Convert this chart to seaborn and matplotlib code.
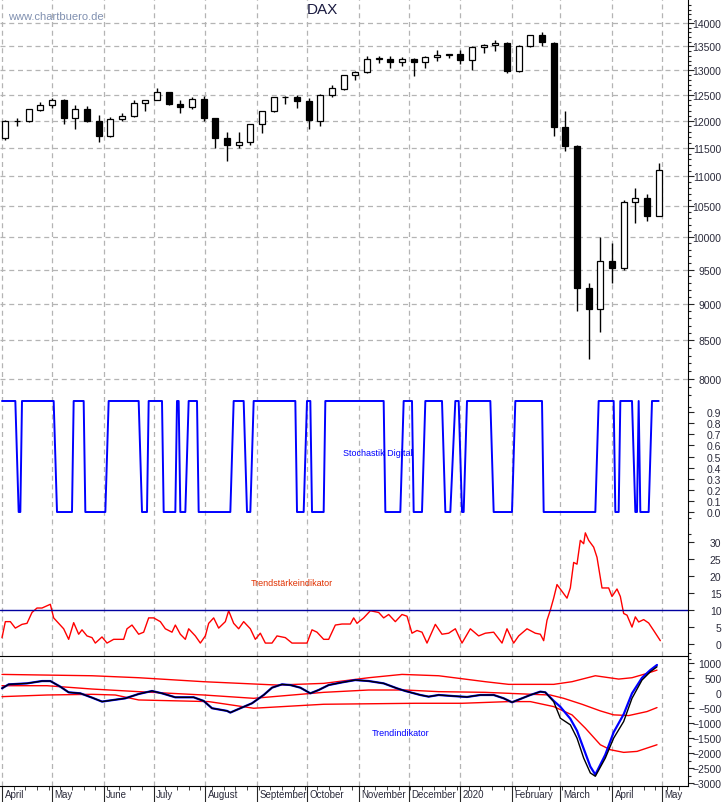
import matplotlib
matplotlib.use('Agg')
import matplotlib.pyplot as plt
import matplotlib.dates as mdates
import matplotlib.ticker as mticker
import numpy as np
import pandas as pd
import seaborn as sns

"""
DAX Wochenkerzen mit Stochastik Digital, Trendstaerke- und Trendindikator
"""

# DAX Wochenkerzen (Montag, Open, High, Low, Close)
week_start = ['2019-04-01', '2019-04-08', '2019-04-15', '2019-04-22', '2019-04-29', '2019-05-06',
              '2019-05-13', '2019-05-20', '2019-05-27', '2019-06-03', '2019-06-10', '2019-06-17',
              '2019-06-24', '2019-07-01', '2019-07-08', '2019-07-15', '2019-07-22', '2019-07-29',
              '2019-08-05', '2019-08-12', '2019-08-19', '2019-08-26', '2019-09-02', '2019-09-09',
              '2019-09-16', '2019-09-23', '2019-09-30', '2019-10-07', '2019-10-14', '2019-10-21',
              '2019-10-28', '2019-11-04', '2019-11-11', '2019-11-18', '2019-11-25', '2019-12-02',
              '2019-12-09', '2019-12-16', '2019-12-23', '2019-12-30', '2020-01-06', '2020-01-13',
              '2020-01-20', '2020-01-27', '2020-02-03', '2020-02-10', '2020-02-17', '2020-02-24',
              '2020-03-02', '2020-03-09', '2020-03-16', '2020-03-23', '2020-03-30', '2020-04-06',
              '2020-04-13', '2020-04-20', '2020-04-27']
dax_open = [11680, 12010, 12000, 12220, 12315, 12410, 12060, 12240, 12010, 11720, 12045, 12090,
            12340, 12400, 12560, 12320, 12260, 12420, 12050, 11690, 11560, 11610, 11940, 12190,
            12470, 12460, 12380, 12010, 12510, 12630, 12900, 12960, 13230, 13240, 13160, 13240,
            13170, 13280, 13320, 13340, 13220, 13480, 13520, 13570, 12980, 13510, 13740, 13570,
            11890, 11540, 9230, 8930, 9630, 9530, 10560, 10630, 10340]
dax_high = [12020, 12050, 12230, 12370, 12440, 12420, 12300, 12280, 12110, 12070, 12150, 12400,
            12400, 12650, 12570, 12400, 12470, 12480, 12050, 11800, 11800, 11950, 12200, 12470,
            12480, 12500, 12440, 12530, 12700, 12900, 12990, 13290, 13300, 13300, 13280, 13260,
            13300, 13430, 13340, 13420, 13500, 13550, 13640, 13590, 13520, 13750, 13800, 13580,
            12200, 11550, 9300, 10000, 9900, 10600, 10800, 10700, 11230]
dax_low = [11650, 11900, 11990, 12200, 12250, 11950, 11860, 11980, 11620, 11710, 12000, 12070,
           12200, 12400, 12300, 12150, 12230, 12000, 11500, 11270, 11500, 11550, 11780, 12180,
           12330, 12250, 11850, 11900, 12460, 12600, 12800, 12950, 13150, 13050, 13090, 12890,
           13050, 13200, 13250, 13130, 13000, 13360, 13400, 12950, 12970, 13490, 13500, 11720,
           11450, 8900, 8250, 8620, 9300, 9500, 10230, 10250, 10330]
dax_close = [12010, 11999, 12222, 12315, 12412, 12060, 12239, 12011, 11727, 12045, 12096, 12340,
             12399, 12568, 12323, 12260, 12419, 12059, 11694, 11562, 11612, 11939, 12192, 12469,
             12468, 12381, 12013, 12512, 12634, 12895, 12961, 13229, 13242, 13164, 13236, 13166,
             13283, 13319, 13337, 13219, 13483, 13526, 13577, 12982, 13513, 13745, 13579, 11890,
             11542, 9232, 8929, 9633, 9526, 10565, 10626, 10336, 11107]

# Stochastik Digital (Tage seit 01.04.2019, Wert)
stoch_day = [0, 8, 10, 11,
             12, 31, 33, 42,
             43, 49, 50, 62,
             64, 82, 84, 87,
             88, 96, 97, 104,
             105, 106, 107, 110,
             112, 117, 118, 137,
             139, 145, 147, 149,
             151, 176, 177, 181,
             183, 185, 186, 193,
             194, 229, 230, 239,
             241, 246, 247, 252,
             254, 264, 266, 269,
             272, 274, 276, 277,
             279, 293, 295, 306,
             308, 324, 325, 356,
             358, 367, 368, 370,
             371, 378, 380, 381,
             382, 383, 388, 390,
             394]
stoch_val = [1, 1, 0, 0,
             1, 1, 0, 0,
             1, 1, 0, 0,
             1, 1, 0, 0,
             1, 1, 0, 0,
             1, 1, 0, 0,
             1, 1, 0, 0,
             1, 1, 0, 0,
             1, 1, 0, 0,
             1, 1, 0, 0,
             1, 1, 0, 0,
             1, 1, 0, 0,
             1, 1, 0, 0,
             1, 1, 0, 0,
             1, 1, 0, 0,
             1, 1, 0, 0,
             1, 1, 0, 0,
             1, 1, 0, 0,
             1, 0, 0, 1,
             1]

# Trendstaerkeindikator
ts_day = [0, 2, 5, 8, 12, 15, 18, 21, 24, 29, 31, 34, 37, 40, 43, 46, 48, 51, 54, 56, 60, 63, 67, 73,
          75, 78, 82, 85, 88, 91, 95, 98, 102, 104, 107, 110, 112, 116, 119, 122, 124, 127, 130, 134,
          136, 139, 142, 145, 149, 152, 155, 158, 162, 165, 170, 174, 179, 183, 186, 189, 193, 196,
          200, 204, 209, 211, 213, 217, 221, 226, 229, 232, 236, 240, 243, 246, 249, 252, 255, 260,
          264, 268, 272, 276, 281, 286, 290, 295, 300, 303, 307, 310, 315, 320, 323, 325, 327, 329,
          331, 333, 336, 339, 341, 343, 345, 347, 349, 350, 352, 355, 357, 360, 364, 366, 369, 371,
          373, 375, 378, 380, 382, 385, 388, 391, 395]
ts_val = [1.9, 6.6, 6.6, 4.7, 5.8, 6.1, 9.3, 10.6, 10.6, 11.7, 7.7, 6.1, 4.5, 1.4, 6.3, 2.9, 4.2, 2.4,
          1.9, 0.3, 2.1, 0.3, 1.4, 1.4, 4.5, 5.6, 2.9, 3.5, 7.7, 7.7, 6.6, 4.5, 3.5, 5.6, 2.9, 1.4,
          4.5, 2.4, 0.3, 2.4, 6.1, 7.7, 4.7, 6.6, 9.8, 6.1, 4.5, 6.6, 4.5, 1.4, 3.2, 0.3, 0.3, 2.4,
          1.9, 0.3, 0.3, 0.3, 4.2, 3.5, 1.4, 1.4, 5.6, 5.9, 5.9, 7.7, 6.1, 7.7, 9.8, 9.3, 7.7, 8.7,
          6.6, 8.7, 8.2, 3.2, 4.0, 3.5, 0.3, 5.8, 2.9, 3.2, 4.5, 0.3, 4.5, 2.4, 3.2, 3.5, 0.3, 4.5,
          0.3, 2.4, 4.5, 3.2, 2.9, 1.0, 7.0, 10.0, 13.5, 17.5, 15.5, 13.5, 16.5, 24.0, 23.5, 30.5,
          29.5, 32.7, 30.5, 28.5, 25.5, 16.5, 16.5, 14.0, 16.2, 14.0, 9.0, 8.5, 5.0, 8.0, 6.5, 7.2,
          6.2, 4.0, 1.0]

# Trendindikator
ti_day = [0, 4, 15, 24, 29, 35, 40, 47, 54, 60, 67, 74, 82, 90, 96, 104, 115, 121, 126, 135, 137, 143,
          150, 157, 162, 168, 173, 179, 185, 190, 196, 204, 212, 220, 229, 237, 242, 251, 256, 262,
          270, 279, 287, 295, 301, 306, 312, 317, 323, 326, 331, 335, 341, 345, 349, 353, 356, 362,
          367, 373, 378, 384, 389, 393]
ti_black = [168, 301, 334, 412, 412, 223, 34, 1, -143, -276, -221, -166, -21, 79, 1, -132, -132, -254,
            -498, -587, -643, -498, -332, -55, 190, 301, 278, 190, 1, 112, 278, 367, 445, 412, 334,
            168, 79, -55, -110, -55, -88, -121, -55, -55, -166, -299, -166, -55, 57, 34, -276, -831,
            -1053, -1498, -2164, -2663, -2774, -2164, -1498, -942, -166, 445, 722, 889]
ti_blue = [168, 301, 334, 412, 412, 223, 34, 1, -143, -276, -221, -166, -21, 79, 1, -132, -132, -254,
           -498, -587, -643, -498, -332, -55, 190, 301, 278, 190, 1, 112, 278, 367, 445, 412, 334,
           168, 79, -55, -110, -55, -88, -121, -55, -55, -166, -299, -166, -55, 57, 34, -250, -450,
           -850, -1250, -1850, -2450, -2720, -2050, -1300, -700, 0, 520, 780, 950]
band_up_day = [0, 54, 82, 121, 165, 193, 220, 240, 262, 290, 304, 331, 342, 356, 370, 378, 387, 393]
band_up = [634, 589, 523, 390, 278, 334, 523, 634, 589, 390, 301, 301, 390, 589, 478, 523, 667, 778]
band_mid_day = [0, 27, 54, 82, 121, 151, 193, 220, 242, 262, 290, 318, 329, 337, 348, 359, 367, 376,
                387, 393]
band_mid = [256, 256, 145, 57, -55, -166, 34, 112, 112, 57, 34, -32, -55, -166, -365, -587, -720, -743,
            -609, -476]
band_low_day = [0, 27, 54, 68, 82, 124, 151, 193, 248, 276, 304, 317, 331, 342, 350, 359, 365, 373,
                381, 393]
band_low = [-110, -55, -32, -55, -221, -276, -498, -365, -332, -332, -276, -276, -443, -720, -1164,
            -1720, -1886, -1975, -1942, -1720]

month_starts = ['2019-04-01', '2019-05-01', '2019-06-01', '2019-07-01', '2019-08-01', '2019-09-01',
                '2019-10-01', '2019-11-01', '2019-12-01', '2020-01-01', '2020-02-01', '2020-03-01',
                '2020-04-01', '2020-05-01']
month_labels = ['April', 'May', 'June', 'July', 'August', 'September', 'October', 'November',
                'December', '2020', 'February', 'March', 'April', 'May']

sns.set_style('white')
plt.rcParams['font.family'] = ['Liberation Sans', 'DejaVu Sans']

t0 = pd.Timestamp('2019-04-01')


def to_dates(days):
    return t0 + pd.to_timedelta(days, unit='D')


W, H = 723, 803
fig = plt.figure(figsize=(W / 100, H / 100), dpi=100)


def panel(top, bottom):
    return fig.add_axes([0, 1 - bottom / H, 688 / W, (bottom - top) / H])


ax_main = panel(0, 395)
ax_st = panel(395, 525)
ax_ts = panel(525, 657)
ax_ti = panel(657, 787)
axes = [ax_main, ax_st, ax_ts, ax_ti]

xlim = (t0 + pd.Timedelta(days=-1.2), t0 + pd.Timedelta(days=411.6))
months = pd.to_datetime(month_starts)
label_col = '#2a2a3a'

for ax in axes:
    ax.set_xlim(xlim)
    for m in months:
        ax.axvline(m, color='#b4b4b4', ls=(0, (4, 3)), lw=0.9, zorder=0)
    for s in ['left', 'top', 'bottom']:
        ax.spines[s].set_visible(False)
    ax.spines['right'].set_color('black')
    ax.yaxis.tick_right()
    ax.tick_params(axis='y', which='both', direction='out', right=True, length=4, width=0.8,
                   labelsize=7.5, labelcolor=label_col, pad=20)
    ax.tick_params(axis='y', which='minor', length=2.5)
    ax.tick_params(axis='x', which='both', bottom=False, labelbottom=False)
    ax.set_facecolor('white')

# --- Kerzen ---
wk = pd.to_datetime(week_start) + pd.Timedelta(days=2)
o = np.array(dax_open); hi = np.array(dax_high); lo = np.array(dax_low); c = np.array(dax_close)
up = c >= o
ax_main.vlines(wk, lo, hi, color='black', lw=1.0, zorder=3)
ax_main.bar(wk[up], (c - o)[up], bottom=o[up], width=3.5, color='white', edgecolor='black',
            lw=0.9, zorder=4)
ax_main.bar(wk[~up], (o - c)[~up], bottom=c[~up], width=3.5, color='black', edgecolor='black',
            lw=0.9, zorder=4)
ax_main.set_yscale('log')
ax_main.set_ylim(7814, 14540)
main_ticks = list(range(8000, 14001, 500))
ax_main.yaxis.set_major_locator(mticker.FixedLocator(main_ticks))
ax_main.yaxis.set_minor_locator(mticker.FixedLocator(list(range(7900, 14500, 100))))
ax_main.yaxis.set_major_formatter(mticker.FixedFormatter([str(v) for v in main_ticks]))
ax_main.yaxis.set_minor_formatter(mticker.NullFormatter())
for v in main_ticks:
    ax_main.axhline(v, color='#b4b4b4', ls=(0, (4, 3)), lw=0.9, zorder=0)
ax_main.text(0.468, 0.975, 'DAX', transform=ax_main.transAxes, fontsize=11, color='#1a1a40',
             ha='center', va='center')
ax_main.text(0.012, 0.958, 'www.chartbuero.de', transform=ax_main.transAxes, fontsize=8,
             color='#8090b0', ha='left', va='center')

# --- Stochastik Digital ---
sns.lineplot(x=to_dates(stoch_day), y=stoch_val, ax=ax_st, color='#0000ff', lw=1.4, estimator=None)
ax_st.set_ylim(-0.108, 1.063)
ax_st.yaxis.set_major_locator(mticker.FixedLocator([i / 10 for i in range(10)]))
ax_st.yaxis.set_minor_locator(mticker.FixedLocator([-0.05, 0.95, 1.05]))
ax_st.yaxis.set_major_formatter(mticker.FormatStrFormatter('%.1f'))
ax_st.text(0.498, 0.55, 'Stochastik Digital', transform=ax_st.transAxes, fontsize=6.5,
           color='#0000ff', ha='left', va='center')

# --- Trendstaerkeindikator ---
sns.lineplot(x=to_dates(ts_day), y=ts_val, ax=ax_ts, color='#ff0000', lw=1.0, estimator=None)
ax_ts.axhline(10, color='#0000a0', lw=1.0)
ax_ts.set_ylim(-3.5, 35.3)
ax_ts.yaxis.set_major_locator(mticker.FixedLocator(list(range(0, 31, 5))))
ax_ts.yaxis.set_minor_locator(mticker.FixedLocator([-2.5, 32.5]))
ax_ts.text(0.365, 0.56, 'Trendstärkeindikator', transform=ax_ts.transAxes, fontsize=6.5,
           color='#e03000', ha='left', va='center')

# --- Trendindikator ---
for d, v, col, lw in [(band_up_day, band_up, '#ff0000', 1.0), (band_mid_day, band_mid, '#ff0000', 1.0),
                      (band_low_day, band_low, '#ff0000', 1.0), (ti_day, ti_blue, '#0000ff', 1.6),
                      (ti_day, ti_black, 'black', 1.0)]:
    sns.lineplot(x=to_dates(d), y=v, ax=ax_ti, color=col, lw=lw, estimator=None)
ax_ti.set_ylim(-3100, 1250)
ti_ticks = list(range(-3000, 1001, 500))
ax_ti.yaxis.set_major_locator(mticker.FixedLocator(ti_ticks))
ax_ti.yaxis.set_minor_locator(mticker.FixedLocator([-2750, -2250, -1750, -1250, -750, -250,
                                                    250, 750, 1150]))
ax_ti.spines['top'].set_visible(True)
ax_ti.spines['top'].set_color('black')
ax_ti.spines['bottom'].set_visible(True)
ax_ti.spines['bottom'].set_color('black')
ax_ti.text(0.54, 0.41, 'Trendindikator', transform=ax_ti.transAxes, fontsize=6.5,
           color='#0000ff', ha='left', va='center')

# x-Achse
ax_ti.xaxis.set_major_locator(mticker.FixedLocator(mdates.date2num(months)))
ax_ti.xaxis.set_minor_locator(mdates.WeekdayLocator(byweekday=mdates.MO))
ax_ti.tick_params(axis='x', which='major', bottom=True, direction='out', length=14, width=0.8)
ax_ti.tick_params(axis='x', which='minor', bottom=True, direction='out', length=3, width=0.6)
for m, lab in zip(months, month_labels):
    ax_ti.text(m + pd.Timedelta(days=1.5), -0.025, lab, transform=ax_ti.get_xaxis_transform(),
               fontsize=7, color=label_col, ha='left', va='top')

for ax in axes:
    ax.set_xlabel('')
    ax.set_ylabel('')
    for lab in ax.get_yticklabels():
        lab.set_horizontalalignment('right')

fig.savefig('out.png', dpi=100)
